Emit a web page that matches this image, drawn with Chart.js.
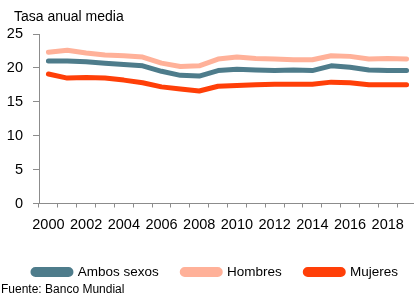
<!DOCTYPE html>
<html>
<head>
<meta charset="utf-8">
<script src="https://cdn.jsdelivr.net/npm/chart.js@4/dist/chart.umd.min.js"></script>
<style>
  html, body { margin: 0; padding: 0; background: #fff; overflow: hidden; width: 414px; height: 295px; }
  #wrap { position: absolute; left: 0; top: 0; width: 432px; height: 295px; }
  #ytitle { position: absolute; left: 14px; top: 9px; font-family: "Liberation Sans", Arial, sans-serif; font-size: 14px; line-height: 14px; color: #000; white-space: nowrap; }
  #source { position: absolute; left: 1px; top: 283px; font-family: "Liberation Sans", Arial, sans-serif; font-size: 12px; line-height: 12px; color: #000; white-space: nowrap; }
</style>
</head>
<body>
<div id="wrap"><canvas id="c" width="432" height="295"></canvas></div>
<div id="ytitle">Tasa anual media</div>
<div id="source">Fuente: Banco Mundial</div>
<script>
const years = ["2000","2001","2002","2003","2004","2005","2006","2007","2008","2009","2010","2011","2012","2013","2014","2015","2016","2017","2018","2019"];
const ambosSexos = [21.0,21.0,20.9,20.7,20.5,20.3,19.5,18.9,18.8,19.6,19.8,19.7,19.6,19.7,19.6,20.3,20.1,19.7,19.6,19.6];
const hombres    = [22.3,22.6,22.2,21.9,21.8,21.6,20.7,20.2,20.3,21.3,21.6,21.4,21.3,21.2,21.2,21.8,21.7,21.3,21.4,21.3];
const mujeres    = [19.1,18.5,18.6,18.5,18.2,17.8,17.2,16.9,16.6,17.3,17.4,17.5,17.6,17.6,17.6,17.9,17.8,17.5,17.5,17.5];
const yTicks = [0,5,10,15,20,25];
const seriesNames = ["Ambos sexos","Hombres","Mujeres"];
const seriesColors = ["#4e7c8b","#ffb199","#ff3f08"];

const tickFont = { family: "'Liberation Sans', Arial, sans-serif", size: 14.5 };
const axisColor = "#8c8c8c";

function ds(label, data, color) {
  return {
    label, data,
    borderColor: color, backgroundColor: color,
    borderWidth: 5, pointRadius: 0, tension: 0,
    borderCapStyle: "round", borderJoinStyle: "round", fill: false
  };
}

const legendShift = {
  id: "legendShift",
  beforeDraw(chart) {
    const lg = chart.legend;
    if (lg && !lg._shifted) { lg.left += 7.5; lg.right += 7.5; lg._shifted = true; }
  }
};

new Chart(document.getElementById("c"), {
  type: "line",
  data: {
    labels: years,
    datasets: [
      ds(seriesNames[0], ambosSexos, seriesColors[0]),
      ds(seriesNames[1], hombres, seriesColors[1]),
      ds(seriesNames[2], mujeres, seriesColors[2])
    ]
  },
  plugins: [legendShift],
  options: {
    responsive: false,
    animation: false,
    devicePixelRatio: 1,
    layout: { padding: { left: 0, right: 16, top: 34, bottom: 6.25 } },
    plugins: {
      tooltip: { enabled: false },
      legend: {
        position: "bottom",
        labels: {
          boxWidth: 38, boxHeight: 5, padding: 23.5,
          useBorderRadius: true, borderRadius: 2.5,
          color: "#000",
          font: { family: "'Liberation Sans', Arial, sans-serif", size: 13.5 }
        }
      }
    },
    scales: {
      x: {
        type: "category",
        offset: true,
        afterFit: (s) => { s.height = 38.25; },
        grid: { display: true, drawOnChartArea: false, drawTicks: true, tickLength: 4, color: axisColor, offset: true, lineWidth: 1 },
        border: { display: true, color: axisColor, width: 1 },
        ticks: {
          autoSkip: false, maxRotation: 0, minRotation: 0, padding: 9,
          color: "#000", font: tickFont,
          callback: function(v, i) { const l = this.getLabelForValue(v); return (parseInt(l) % 2 === 0) ? l : ""; }
        }
      },
      y: {
        min: 0, max: 25,
        afterBuildTicks: (s) => { s.ticks = yTicks.map(v => ({ value: v })); },
        afterFit: (s) => { s.width = 39; },
        grid: { display: true, drawOnChartArea: false, drawTicks: true, tickLength: 6, color: axisColor },
        border: { display: true, color: axisColor, width: 1 },
        ticks: { padding: 10, color: "#000", font: tickFont }
      }
    }
  }
});
</script>
</body>
</html>
